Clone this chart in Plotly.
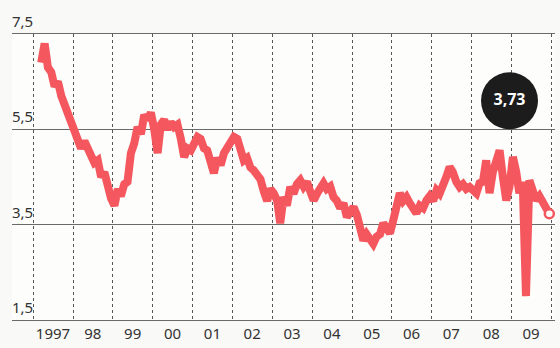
import plotly.graph_objects as go

# monthly yield readings, Mar 1997 - Dec 2009
months = [f"{y}-{m:02d}-15" for y in range(1997, 2010) for m in range(1, 13)][2:]
values = [
    6.9, 7.3, 6.8, 6.7, 6.4, 6.5, 6.2, 6.0, 5.9, 5.6,                 # 1997
    5.5, 5.3, 5.1, 5.25, 5.1, 4.95, 4.8, 4.85, 4.5, 4.6, 4.3, 4.05,   # 1998
    3.9, 4.25, 4.1, 4.35, 4.4, 5.0, 5.2, 5.55, 5.4, 5.8, 5.7, 5.85,   # 1999
    5.5, 5.0, 5.6, 5.7, 5.5, 5.65, 5.55, 5.6, 5.3, 4.92, 5.1, 5.06,   # 2000
    5.2, 5.34, 5.3, 5.1, 5.06, 4.8, 4.58, 4.9, 4.75, 5.0, 5.1, 5.2,   # 2001
    5.34, 5.3, 5.0, 4.85, 4.9, 4.7, 4.64, 4.5, 4.45, 4.2, 4.0, 4.25,  # 2002
    4.16, 4.0, 3.53, 4.08, 3.9, 4.29, 4.15, 4.35, 4.43, 4.3, 4.4, 4.2,  # 2003
    4.01, 4.15, 4.3, 4.37, 4.25, 4.3, 4.08, 4.0, 3.85, 3.95, 3.66, 3.75,  # 2004
    3.87, 3.7, 3.4, 3.17, 3.3, 3.2, 3.1, 3.25, 3.3, 3.53, 3.45, 3.32,  # 2005
    3.6, 3.9, 4.16, 4.0, 4.08, 3.95, 3.8, 3.74, 3.9, 3.85, 4.01, 4.1,  # 2006
    4.0, 4.22, 4.15, 4.3, 4.5, 4.71, 4.6, 4.4, 4.29, 4.35, 4.25, 4.29,  # 2007
    4.2, 4.16, 4.37, 4.4, 4.85, 4.16, 4.6, 4.9, 5.06, 4.5, 4.01, 4.3,  # 2008
    4.92, 4.6, 4.16, 4.4, 2.0, 4.43, 4.2, 4.01, 4.1, 3.95, 3.87, 3.73,  # 2009
]

years = list(range(1997, 2010))
year_labels = ["1997"] + [str(y)[2:] for y in years[1:]]
y_ticks = [1.5, 3.5, 5.5, 7.5]
last_label = "3,73"

red = "#f4585e"
grey = "#6a6a6a"

fig = go.Figure()
fig.add_trace(go.Scatter(x=months, y=values, mode="lines",
                         line=dict(color=red, width=8), hoverinfo="skip"))
# end point marker
fig.add_trace(go.Scatter(x=[months[-1]], y=[values[-1]], mode="markers",
                         marker=dict(size=9, color="white", line=dict(color=red, width=2.5)),
                         cliponaxis=False))
# black bubble with the latest value
fig.add_trace(go.Scatter(x=["2008-12-15"], y=[6.1], mode="markers+text",
                         marker=dict(size=57, color="#1c1c1c"),
                         text=[f"<b>{last_label}</b>"], textposition="middle center",
                         textfont=dict(color="white", size=16, family="Open Sans"),
                         cliponaxis=False))

# y labels sit above their gridlines on the left
for v in y_ticks:
    fig.add_annotation(x=0, xref="paper", y=v, yref="y", yanchor="bottom", xanchor="left",
                       text=f"{v:.1f}".replace(".", ","), showarrow=False,
                       yshift=1, xshift=-2, font=dict(size=15))

fig.update_layout(
    width=560, height=348,
    margin=dict(l=12, r=5, t=34, b=28),
    paper_bgcolor="#f9f9f7", plot_bgcolor="#fdfdfc",
    showlegend=False,
    separators=",.",
    font=dict(family="Noto Sans", size=14, color="#333333"),
)
fig.update_xaxes(
    range=["1996-06-20", "2010-02-05"],
    automargin=False,
    tickmode="array",
    tickvals=[f"{y}-07-01" for y in years],
    ticktext=year_labels,
    showgrid=False, ticks="",
    showline=True, mirror=True, linecolor=grey, linewidth=1,
    minor=dict(tick0="1998-01-01", dtick="M12", showgrid=True,
               griddash="dot", gridcolor="#555555", gridwidth=1, ticks=""),
    tickfont=dict(size=15),
)
fig.update_yaxes(
    range=[1.5, 7.5],
    automargin=False,
    tickvals=y_ticks, showticklabels=False,
    showgrid=True, gridcolor=grey, gridwidth=1,
    zeroline=False, showline=False, ticks="",
)

fig.write_html("out.html", config={"displayModeBar": False},
               post_script="document.body.style.margin='0';")
